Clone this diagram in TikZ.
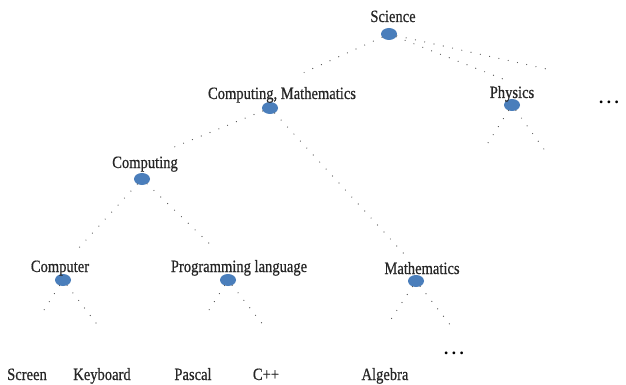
\documentclass[tikz,border=0pt]{standalone}
\usepackage{fontspec}
\setmainfont{Liberation Serif}
\newfontfamily\lblfont[BoldFont={Liberation Serif},BoldFeatures={FakeBold=0.7}]{Liberation Serif}
\usetikzlibrary{shapes.geometric}
\definecolor{dotblue}{HTML}{4A7EBB}
\newcommand{\tallt}[1]{\scalebox{0.97}[1.15]{#1}}
\tikzset{
  blob/.style={ellipse, fill=dotblue, draw=none, minimum width=16pt, minimum height=12pt, inner sep=0pt},
  lbl/.style={anchor=base, inner sep=0pt, text=black!85, font=\lblfont\bfseries\fontsize{15}{18}\selectfont},
  conn/.style={draw=black!70, line width=1.2pt, line cap=round, dash pattern=on 0pt off 9.5pt},
  more/.style={anchor=base, inner sep=0pt, font=\bfseries\fontsize{17}{20}\selectfont}
}
\begin{document}
\begin{tikzpicture}[x=1pt, y=-1pt]
\useasboundingbox (0,0) rectangle (626,385);

% tree nodes
\node[blob] (sci) at (389,34) {};
\node[lbl] (scil) at (393,22) {\tallt{Science}};
\node[blob] (cm) at (270,108) {};
\node[lbl] (cml) at (282,99) {\tallt{Computing, Mathematics}};
\node[blob] (phys) at (512,105) {};
\node[lbl] (physl) at (512,98) {\tallt{Physics}};
\node[blob] (comp) at (142,179) {};
\node[lbl] (compl) at (145,168) {\tallt{Computing}};
\node[blob] (cmpr) at (63,280) {};
\node[lbl] (cmprl) at (60,272) {\tallt{Computer}};
\node[blob] (prog) at (228,280) {};
\node[lbl] (progl) at (239,272) {\tallt{Programming language}};
\node[blob] (math) at (416,281) {};
\node[lbl] (mathl) at (422,274) {\tallt{Mathematics}};

% leaves
\node[lbl] (screen) at (27,380) {\tallt{Screen}};
\node[lbl] (keyb) at (102,380) {\tallt{Keyboard}};
\node[lbl] (pascal) at (193,380) {\tallt{Pascal}};
\node[lbl] (cpp) at (266,380) {\tallt{C++}};
\node[lbl] (alg) at (385,380) {\tallt{Algebra}};
\node[more] (moreR) at (609,103) {.\hspace{3.5pt}.\hspace{3.5pt}.};
\node[more] (moreM) at (454,354) {.\hspace{3.5pt}.\hspace{3.5pt}.};

% free ends of the dotted connectors
\coordinate (e1) at (303,73);
\coordinate (e2) at (503,79);
\coordinate (e3) at (551,70);
\coordinate (e4) at (167,150);
\coordinate (e5) at (406,256);
\coordinate (e6) at (76,251);
\coordinate (e7) at (213,247);
\coordinate (e8) at (486,146);
\coordinate (e9) at (546,152);
\coordinate (e10) at (44,310);
\coordinate (e11) at (99,327);
\coordinate (e12) at (209,310);
\coordinate (e13) at (264,326);
\coordinate (e14) at (388,324);
\coordinate (e15) at (451,326);

% connectors
\draw[conn] (sci) -- (e1);
\draw[conn] (sci) -- (e2);
\draw[conn] (sci) -- (e3);
\draw[conn] (cm) -- (e4);
\draw[conn] (cm) -- (e5);
\draw[conn] (comp) -- (e6);
\draw[conn] (comp) -- (e7);
\draw[conn] (phys) -- (e8);
\draw[conn] (phys) -- (e9);
\draw[conn] (cmpr) -- (e10);
\draw[conn] (cmpr) -- (e11);
\draw[conn] (prog) -- (e12);
\draw[conn] (prog) -- (e13);
\draw[conn] (math) -- (e14);
\draw[conn] (math) -- (e15);
\end{tikzpicture}
\end{document}
